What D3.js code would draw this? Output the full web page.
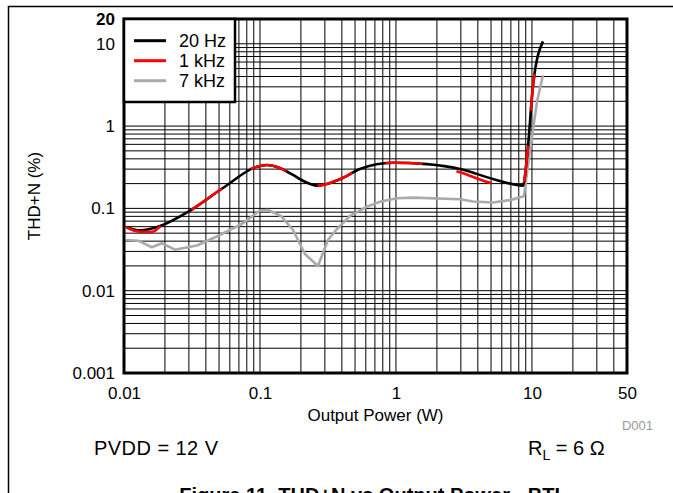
<!DOCTYPE html>
<html><head><meta charset="utf-8">
<script src="https://cdn.jsdelivr.net/npm/d3@7"></script>
<style>
html,body{margin:0;padding:0;background:#fff;}
svg{display:block;font-family:"Liberation Sans",Arial,sans-serif;}
</style></head>
<body>
<svg id="chart" width="673" height="493"></svg>
<script>
// ---- data ----
const power20 = [0.0104,0.0131,0.0184,0.0306,0.0534,0.095,0.1125,0.175,0.197,0.267,0.387,0.543,0.95,1.69,2.96,5.16,8.59,9.19,10.2,12.05];
const thd20   = [0.059,0.054,0.061,0.094,0.177,0.321,0.337,0.255,0.226,0.189,0.226,0.301,0.359,0.345,0.301,0.228,0.189,0.41,3.18,10.7];

const power1k = [0.0104,0.0131,0.0162,0.0184,0.0306,0.0534,0.095,0.1125,0.175,0.197,0.267,0.387,0.543,0.95,1.69,2.96,5.16,8.59,9.19,10.2,12.05];
const thd1k   = [0.059,0.052,0.052,0.060,0.094,0.177,0.321,0.337,0.255,0.226,0.189,0.226,0.301,0.359,0.345,0.275,0.202,0.189,0.41,3.18,10.7];

const power7k = [0.01035,0.0127,0.016,0.019,0.0237,0.0344,0.0491,0.075,0.1,0.1146,0.1426,0.175,0.214,0.267,0.316,0.368,0.459,0.612,0.762,1.016,1.33,2.96,3.68,5.16,6.89,8.73,9.66,10.9,12.05];
const thd7k   = [0.0413,0.0405,0.0337,0.0377,0.0315,0.0354,0.0462,0.066,0.0943,0.0955,0.0809,0.0546,0.0279,0.020,0.0413,0.0562,0.0809,0.105,0.1206,0.133,0.135,0.129,0.121,0.118,0.126,0.140,0.494,2.0,4.14];

const seriesNames = ["20 Hz","1 kHz","7 kHz"];
const seriesColors = ["#000000","#ff0000","#aaaaaa"];
const xTickValues = [0.01,0.1,1,10,50];
const xTickLabels = ["0.01","0.1","1","10","50"];
const yTickValues = [0.001,0.01,0.1,1,10,20];
const yTickLabels = ["0.001","0.01","0.1","1","10","20"];

// ---- layout ----
const svg = d3.select("#chart");
const L = 124, R = 627, T = 19, B = 373;
const x = d3.scaleLog().domain([0.01,50]).range([L,R]);
const y = d3.scaleLog().domain([0.001,20]).range([B,T]);

// outer frame (left + top)
svg.append("path").attr("d","M8.5,493 L8.5,6.5 L673,6.5").attr("fill","none").attr("stroke","#000").attr("stroke-width",1.5);

// grid
const xGrid = [];
[0.01,0.1,1,10].forEach(d=>{for(let k=1;k<=9;k++){const v=d*k; if(v>0.01 && v<50) xGrid.push(v);}});
const yGrid = [];
[0.001,0.01,0.1,1,10].forEach(d=>{for(let k=1;k<=9;k++){const v=d*k; if(v>0.001 && v<20) yGrid.push(v);}});
const g = svg.append("g");
g.selectAll(".vg").data(xGrid).enter().append("line")
  .attr("x1",d=>x(d)).attr("x2",d=>x(d)).attr("y1",T).attr("y2",B)
  .attr("stroke","#000").attr("stroke-width",1);
g.selectAll(".hg").data(yGrid).enter().append("line")
  .attr("x1",L).attr("x2",R).attr("y1",d=>y(d)).attr("y2",d=>y(d))
  .attr("stroke","#000").attr("stroke-width",1);

// curves
const mk = (P,V)=>P.map((p,i)=>({p,v:V[i]}));
const smooth = d3.line().x(d=>x(d.p)).y(d=>y(d.v)).curve(d3.curveMonotoneX);
const straight = d3.line().x(d=>x(d.p)).y(d=>y(d.v));
svg.append("path").attr("d",straight(mk(power7k,thd7k))).attr("fill","none")
  .attr("stroke",seriesColors[2]).attr("stroke-width",2.6).attr("stroke-linejoin","round");
svg.append("path").attr("d",smooth(mk(power20,thd20))).attr("fill","none")
  .attr("stroke",seriesColors[0]).attr("stroke-width",2.6).attr("stroke-linejoin","round");
svg.append("path").attr("d",smooth(mk(power1k,thd1k))).attr("fill","none")
  .attr("stroke",seriesColors[1]).attr("stroke-width",2.6).attr("stroke-dasharray","37,35");

// plot border
svg.append("rect").attr("x",L).attr("y",T).attr("width",R-L).attr("height",B-T)
  .attr("fill","none").attr("stroke","#000").attr("stroke-width",3);

// axes labels
const xAxis = d3.axisBottom(x).tickValues(xTickValues).tickFormat((d,i)=>xTickLabels[i]).tickSize(0).tickPadding(14);
const ax = svg.append("g").attr("transform",`translate(0,${B})`).call(xAxis);
ax.select(".domain").remove();
ax.selectAll("text").attr("font-size",17).attr("fill","#000").attr("font-family","Liberation Sans, Arial, sans-serif");

const yAxis = d3.axisLeft(y).tickValues(yTickValues).tickFormat((d,i)=>yTickLabels[i]).tickSize(0).tickPadding(9);
const ay = svg.append("g").attr("transform",`translate(${L},0)`).call(yAxis);
ay.select(".domain").remove();
ay.selectAll("text").attr("font-size",17).attr("fill","#000").attr("font-family","Liberation Sans, Arial, sans-serif")
  .attr("font-weight",d=>d===20?"bold":"normal");

svg.append("text").attr("x",(L+R)/2).attr("y",421).attr("text-anchor","middle").attr("font-size",17).text("Output Power (W)");
svg.append("text").attr("x",40).attr("y",(T+B)/2).attr("text-anchor","middle").attr("font-size",17)
  .attr("transform",`rotate(-90,40,${(T+B)/2})`).text("THD+N (%)");
svg.append("text").attr("x",653).attr("y",430).attr("text-anchor","end").attr("font-size",13).attr("fill","#999").text("D001");

svg.append("text").attr("x",94).attr("y",455).attr("font-size",20).attr("textLength",124).text("PVDD = 12 V");
const rl = svg.append("text").attr("x",528).attr("y",455).attr("font-size",20);
rl.append("tspan").text("R");
rl.append("tspan").attr("font-size",14).attr("dy",5).text("L");
rl.append("tspan").attr("dy",-5).text(" = 6 Ω");

svg.append("text").attr("x",373).attr("y",502).attr("text-anchor","middle").attr("font-size",20).attr("font-weight","bold")
  .text("Figure 11. THD+N vs Output Power - BTL");

// legend
const lg = svg.append("g");
lg.append("rect").attr("x",L).attr("y",T).attr("width",111).attr("height",83).attr("fill","#fff").attr("stroke","#000").attr("stroke-width",2.5);
seriesNames.forEach((n,i)=>{
  const yy = 40.7 + i*20;
  lg.append("line").attr("x1",134).attr("x2",166).attr("y1",yy).attr("y2",yy).attr("stroke",seriesColors[i]).attr("stroke-width",3);
  lg.append("text").attr("x",179).attr("y",yy+6.5).attr("font-size",18).text(n);
});
</script>
</body></html>
